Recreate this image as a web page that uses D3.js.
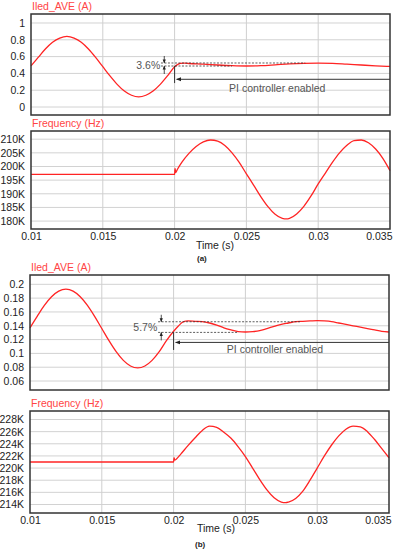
<!DOCTYPE html>
<html>
<head>
<meta charset="utf-8">
<script src="https://cdn.jsdelivr.net/npm/d3@7"></script>
<style>
  body { margin: 0; background: #fff; }
  svg text { font-family: "Liberation Sans Narrow", "Arial Narrow", "Liberation Sans", Arial, sans-serif; }
</style>
</head>
<body>
<svg id="chart" width="397" height="550"></svg>
<script>
// ---- data ----
var xTicks = [0.01, 0.015, 0.02, 0.025, 0.03, 0.035];

// (a) LED current
var timeIledA = [0.0100,0.0105,0.0110,0.0115,0.0120,0.0125,0.0130,0.0135,0.0140,0.0145,0.0150,0.0155,0.0160,0.0165,0.0170,0.0175,0.0180,0.0185,0.0190,0.0195,0.0200,0.0204,0.0207,0.0210,0.0220,0.0230,0.0240,0.0250,0.0260,0.0270,0.0280,0.0290,0.0300,0.0310,0.0320,0.0330,0.0340,0.0350];
var iledA = [0.49,0.59,0.69,0.77,0.82,0.84,0.82,0.77,0.69,0.59,0.48,0.37,0.27,0.19,0.14,0.12,0.14,0.19,0.27,0.37,0.48,0.52,0.522,0.518,0.51,0.50,0.492,0.488,0.492,0.502,0.513,0.52,0.523,0.52,0.51,0.50,0.49,0.483];
var iledATicks = [0, 0.2, 0.4, 0.6, 0.8, 1];

// (a) switching frequency (kHz)
var timeFreqA = [0.0100,0.0200,0.02003,0.02008,0.0202,0.0205,0.0210,0.0215,0.0220,0.0225,0.0230,0.0235,0.0240,0.0245,0.0250,0.0255,0.0260,0.0265,0.0270,0.0275,0.0278,0.0280,0.0285,0.0290,0.0295,0.0300,0.0305,0.0310,0.0315,0.0320,0.0325,0.0330,0.0335,0.0340,0.0345,0.0350];
var freqA = [197.1,197.1,199.3,197.8,199.0,201.5,204.8,207.3,209.0,209.7,209.3,207.7,205.0,201.5,197.3,193.2,189.0,185.3,182.5,181.0,180.8,181.0,182.6,185.4,189.2,193.6,197.6,201.6,205.1,207.8,209.5,209.7,208.7,206.4,203.0,198.5];
var freqATicks = [180, 185, 190, 195, 200, 205, 210];

// (b) LED current
var timeIledB = [0.0100,0.0105,0.0110,0.0115,0.0120,0.0125,0.0130,0.0135,0.0140,0.0145,0.0150,0.0155,0.0160,0.0165,0.0170,0.0175,0.0180,0.0185,0.0190,0.0195,0.0200,0.0203,0.0207,0.0210,0.0215,0.0220,0.0225,0.0230,0.0235,0.0240,0.0245,0.0250,0.0255,0.0260,0.0265,0.0270,0.0275,0.0280,0.0285,0.0290,0.0295,0.0300,0.0305,0.0310,0.0315,0.0320,0.0325,0.0330,0.0335,0.0340,0.0345,0.0350];
var iledB = [0.137,0.1536,0.1695,0.1821,0.1902,0.193,0.1902,0.1821,0.1695,0.1536,0.136,0.1184,0.1025,0.0899,0.0818,0.079,0.0818,0.0899,0.1025,0.1184,0.132,0.139,0.146,0.147,0.1465,0.146,0.144,0.141,0.137,0.134,0.1315,0.131,0.1315,0.133,0.136,0.139,0.142,0.144,0.146,0.1465,0.147,0.1475,0.147,0.146,0.144,0.142,0.140,0.138,0.136,0.134,0.132,0.131];
var iledBTicks = [0.06, 0.08, 0.1, 0.12, 0.14, 0.16, 0.18, 0.2];

// (b) switching frequency (kHz)
var timeFreqB = [0.0100,0.0200,0.02003,0.02008,0.0202,0.0205,0.0210,0.0215,0.0220,0.0225,0.0230,0.0235,0.0240,0.0245,0.0250,0.0255,0.0260,0.0265,0.0270,0.0275,0.0278,0.0280,0.0285,0.0290,0.0295,0.0300,0.0305,0.0310,0.0315,0.0320,0.0325,0.0330,0.0335,0.0340,0.0345,0.0350];
var freqB = [221.0,221.0,221.7,221.3,221.5,222.3,223.7,225.0,226.2,226.9,226.7,225.9,224.9,223.5,221.9,220.0,218.1,216.4,215.1,214.4,214.3,214.4,215.0,216.2,218.0,220.0,222.0,223.8,225.3,226.4,226.9,226.8,226.0,224.7,223.2,221.7];
var freqBTicks = [214, 216, 218, 220, 222, 224, 226, 228];

var RED = "#ff2424";
var svg = d3.select("#chart");

svg.append("defs").append("marker")
    .attr("id", "arr")
    .attr("viewBox", "0 0 10 10")
    .attr("refX", 9).attr("refY", 5)
    .attr("markerWidth", 5).attr("markerHeight", 5)
    .attr("orient", "auto-start-reverse")
    .append("path")
    .attr("d", "M0,1L10,5L0,9Z")
    .attr("fill", "#222");

// draws one framed plot, returns the scales
function drawPanel(opt) {
    var x = d3.scaleLinear().domain([0.01, 0.035]).range([opt.left, opt.right]);
    var y = d3.scaleLinear().domain(opt.yDomain).range([opt.bottom, opt.top]);
    var g = svg.append("g");

    g.selectAll(".hg").data(opt.yTicks).enter().append("line")
        .attr("x1", opt.left).attr("x2", opt.right)
        .attr("y1", function (d) { return y(d); })
        .attr("y2", function (d) { return y(d); })
        .attr("stroke", "#d2d2d2").attr("stroke-width", 1);
    g.selectAll(".vg").data(xTicks.slice(1, -1)).enter().append("line")
        .attr("y1", opt.top).attr("y2", opt.bottom)
        .attr("x1", function (d) { return x(d); })
        .attr("x2", function (d) { return x(d); })
        .attr("stroke", "#cfcfcf").attr("stroke-width", 1);

    var yAxis = d3.axisLeft(y).tickValues(opt.yTicks).tickSize(0).tickPadding(6)
        .tickFormat(opt.fmt);
    g.append("g").attr("transform", "translate(" + opt.left + ",0)").call(yAxis)
        .call(function (a) { a.select(".domain").remove(); })
        .selectAll("text").attr("font-size", "10.5px").attr("fill", "#222")
        .style("font-family", null);

    g.append("text")
        .attr("x", opt.left + 1).attr("y", opt.top - 4)
        .attr("font-size", "10.5px").attr("fill", "#ff4545")
        .text(opt.title);

    var line = d3.line()
        .x(function (d) { return x(d[0]); })
        .y(function (d) { return y(d[1]); })
        .curve(d3.curveMonotoneX);
    g.append("path")
        .datum(d3.zip(opt.t, opt.v))
        .attr("d", line)
        .attr("fill", "none").attr("stroke", RED).attr("stroke-width", 1.3);

    g.append("rect")
        .attr("x", opt.left).attr("y", opt.top)
        .attr("width", opt.right - opt.left).attr("height", opt.bottom - opt.top)
        .attr("fill", "none").attr("stroke", "#333").attr("stroke-width", 1.5);

    if (opt.xLabels) {
        var xAxis = d3.axisBottom(x).tickValues(xTicks).tickSize(0).tickPadding(4)
            .tickFormat(function (d) { return d3.format("~g")(d); });
        var ax = g.append("g").attr("transform", "translate(0," + opt.bottom + ")").call(xAxis);
        ax.select(".domain").remove();
        ax.selectAll("text").attr("font-size", "10.5px").attr("fill", "#222")
            .style("font-family", null)
            .attr("text-anchor", function (d, i) { return i === xTicks.length - 1 ? "end" : "middle"; })
            .attr("dx", function (d, i) { return i === xTicks.length - 1 ? "2px" : 0; });
    }
    return { x: x, y: y, g: g };
}

function annotate(p, a) {
    var g = p.g, x = p.x, y = p.y;
    g.append("line")
        .attr("x1", x(a.dashStart)).attr("x2", x(a.upEnd))
        .attr("y1", y(a.upper)).attr("y2", y(a.upper))
        .attr("stroke", "#333").attr("stroke-width", 0.8).attr("stroke-dasharray", "2,1.5");
    g.append("line")
        .attr("x1", x(a.dashStart)).attr("x2", x(a.lowEnd))
        .attr("y1", y(a.lower)).attr("y2", y(a.lower))
        .attr("stroke", "#333").attr("stroke-width", 0.8).attr("stroke-dasharray", "2,1.5");
    g.append("line")
        .attr("x1", x(a.arrowT)).attr("x2", x(a.arrowT))
        .attr("y1", y(a.upper) - 7).attr("y2", y(a.upper))
        .attr("stroke", "#222").attr("stroke-width", 0.8).attr("marker-end", "url(#arr)");
    g.append("line")
        .attr("x1", x(a.arrowT)).attr("x2", x(a.arrowT))
        .attr("y1", y(a.lower) + 8).attr("y2", y(a.lower))
        .attr("stroke", "#222").attr("stroke-width", 0.8).attr("marker-end", "url(#arr)");
    g.append("text")
        .attr("x", x(a.arrowT) - 4).attr("y", (y(a.upper) + y(a.lower)) / 2 + 4)
        .attr("text-anchor", "end").attr("font-size", "10.5px").attr("fill", "#555")
        .text(a.pct);
    g.append("line")
        .attr("x1", x(0.02)).attr("x2", x(0.02))
        .attr("y1", y(a.lower)).attr("y2", y(a.vEnd))
        .attr("stroke", "#333").attr("stroke-width", 1);
    g.append("line")
        .attr("x1", x(0.035)).attr("x2", x(0.02) + 2)
        .attr("y1", y(a.hArrow)).attr("y2", y(a.hArrow))
        .attr("stroke", "#333").attr("stroke-width", 1).attr("marker-end", "url(#arr)");
    g.append("text")
        .attr("x", x(a.textT)).attr("y", y(a.hArrow) + a.textDy)
        .attr("text-anchor", "middle").attr("font-size", "10.5px").attr("fill", "#555")
        .text("PI controller enabled");
}

var kFmt = function (d) { return d + "K"; };

var a1 = drawPanel({ left: 31, right: 390, top: 14, bottom: 115, yDomain: [-0.095, 1.107],
    yTicks: iledATicks, fmt: d3.format("~g"), title: "Iled_AVE (A)", t: timeIledA, v: iledA });
annotate(a1, { upper: 0.524, lower: 0.488, dashStart: 0.01905, upEnd: 0.0291, lowEnd: 0.024,
    arrowT: 0.01928, pct: "3.6%", vEnd: 0.285, hArrow: 0.33, textT: 0.02715, textDy: 13 });

drawPanel({ left: 31, right: 390, top: 131, bottom: 229, yDomain: [177.1, 213],
    yTicks: freqATicks, fmt: kFmt, title: "Frequency (Hz)", t: timeFreqA, v: freqA, xLabels: true });

var b1 = drawPanel({ left: 30, right: 389, top: 275, bottom: 390, yDomain: [0.047, 0.2135],
    yTicks: iledBTicks, fmt: d3.format("~g"), title: "Iled_AVE (A)", t: timeIledB, v: iledB });
annotate(b1, { upper: 0.1458, lower: 0.1304, dashStart: 0.01892, upEnd: 0.0288, lowEnd: 0.0245,
    arrowT: 0.01914, pct: "5.7%", vEnd: 0.105, hArrow: 0.1159, textT: 0.02706, textDy: 11 });

drawPanel({ left: 30, right: 389, top: 411, bottom: 513, yDomain: [212.6, 229.4],
    yTicks: freqBTicks, fmt: kFmt, title: "Frequency (Hz)", t: timeFreqB, v: freqB, xLabels: true });

// captions
[["Time (s)", 196, 249, "10.5px", "normal"], ["(a)", 197, 261, "8px", "bold"],
 ["Time (s)", 197, 532, "10.5px", "normal"], ["(b)", 195, 547, "8px", "bold"]].forEach(function (c) {
    svg.append("text").attr("x", c[1]).attr("y", c[2])
        .attr("font-size", c[3]).attr("font-weight", c[4]).attr("fill", "#222")
        .text(c[0]);
});
</script>
</body>
</html>
